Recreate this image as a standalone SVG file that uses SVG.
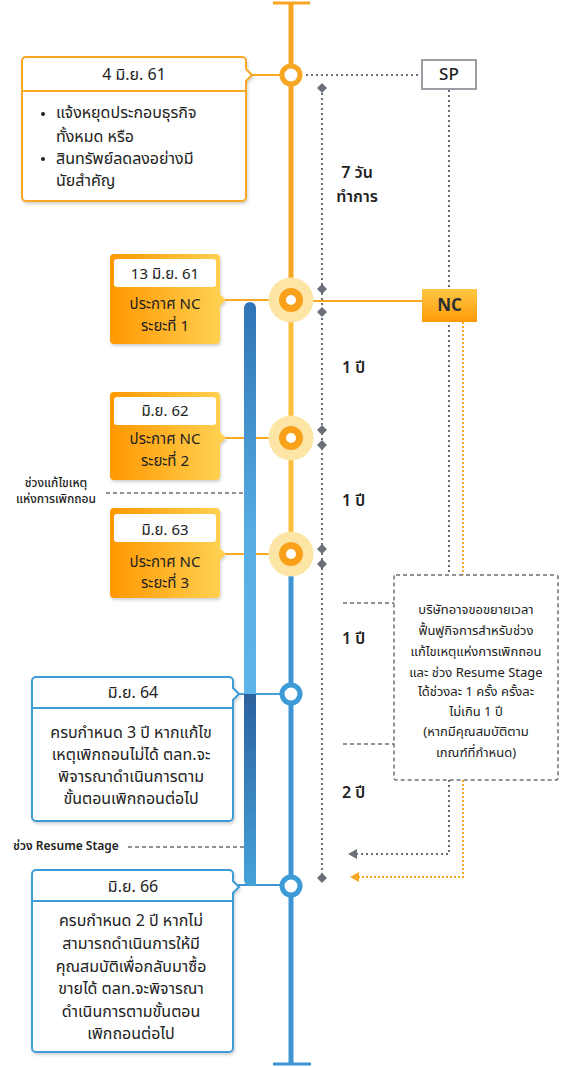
<svg xmlns="http://www.w3.org/2000/svg" width="564" height="1067" viewBox="0 0 564 1067">
<style>
text{font-family:"Noto Sans Thai","Noto Sans","DejaVu Sans","Liberation Sans",sans-serif;fill:#222;dominant-baseline:central}
.c{text-anchor:middle}
.t16{font-size:16px}
.t15{font-size:15px}
.t13{font-size:13px}
.t12{font-size:12px}
.b{font-weight:bold}
.sb{font-weight:600}
.dot{fill:none;stroke:#6B7078;stroke-width:2;stroke-dasharray:2 3}
.dash{fill:none;stroke:#6B7078;stroke-width:1.5;stroke-dasharray:4 3}
.odot{fill:none;stroke:#F9A825;stroke-width:2;stroke-dasharray:2 2}
.dia{fill:#6B7078}
</style>
<defs>
<linearGradient id="gNC" x1="0" y1="0" x2="1" y2="0"><stop offset="0" stop-color="#FF9800"/><stop offset="1" stop-color="#FFD355"/></linearGradient>
<linearGradient id="gNCr" x1="0" y1="0" x2="0" y2="1"><stop offset="0" stop-color="#FFC845"/><stop offset="1" stop-color="#FF9A0A"/></linearGradient>
<linearGradient id="gBar1" x1="0" y1="0" x2="0" y2="1"><stop offset="0" stop-color="#3074B5"/><stop offset="0.6" stop-color="#56AEE3"/><stop offset="1" stop-color="#5DB5E8"/></linearGradient>
<linearGradient id="gBar2" x1="0" y1="0" x2="0" y2="1"><stop offset="0" stop-color="#2C629E"/><stop offset="1" stop-color="#45A3DA"/></linearGradient>
<filter id="sh" x="-10%" y="-10%" width="125%" height="125%"><feDropShadow dx="1" dy="2" stdDeviation="1.5" flood-color="#000" flood-opacity="0.18"/></filter>
</defs>

<g id="connectors">
<line x1="291" y1="3" x2="291" y2="290" stroke="#F7A623" stroke-width="5"/>
<line x1="273" y1="3" x2="310" y2="3" stroke="#F7A623" stroke-width="3"/>
<line x1="291" y1="300" x2="291" y2="560" stroke="#FBBD3C" stroke-width="5"/>
<line x1="291" y1="575" x2="291" y2="1065" stroke="#3F95D4" stroke-width="5"/>
<line x1="273" y1="1064" x2="311" y2="1064" stroke="#3F95D4" stroke-width="3"/>
<line x1="251" y1="75" x2="282" y2="75" stroke="#F9A825" stroke-width="2"/>
<line x1="225" y1="300" x2="272" y2="300" stroke="#F9A825" stroke-width="2"/>
<line x1="225" y1="438" x2="272" y2="438" stroke="#F9A825" stroke-width="2"/>
<line x1="225" y1="554" x2="272" y2="554" stroke="#F9A825" stroke-width="2"/>
<line x1="310" y1="301" x2="422" y2="301" stroke="#F9A825" stroke-width="2"/>
<line x1="238" y1="694" x2="282" y2="694" stroke="#4A9FD8" stroke-width="2"/>
<line x1="238" y1="885" x2="282" y2="885" stroke="#3F95D4" stroke-width="2"/>
<line class="dot" x1="306" y1="75" x2="422" y2="75"/>
<line class="dot" x1="322" y1="88" x2="322" y2="878"/>
<path class="dot" d="M449,90 V575"/>
<path class="dot" d="M449,780 V854 H356"/>
<path d="M348,854 L357,849 L357,859 Z" fill="#6B7078"/>
<path class="odot" d="M463,322 V575"/>
<path class="odot" d="M463,780 V877 H358"/>
<path d="M350,877 L359,872 L359,882 Z" fill="#F9A825"/>
<g class="dia">
<path d="M322,83 l5,5 -5,5 -5,-5z"/>
<path d="M322,284 l5,5 -5,5 -5,-5z"/>
<path d="M322,307 l5,5 -5,5 -5,-5z"/>
<path d="M322,425 l5,5 -5,5 -5,-5z"/>
<path d="M322,440 l5,5 -5,5 -5,-5z"/>
<path d="M322,544 l5,5 -5,5 -5,-5z"/>
<path d="M322,559 l5,5 -5,5 -5,-5z"/>
<path d="M322,873 l5,5 -5,5 -5,-5z"/>
</g>
<line class="dash" x1="343" y1="603" x2="394" y2="603"/>
<line class="dash" x1="343" y1="744" x2="394" y2="744"/>
<line class="dash" x1="106" y1="493" x2="244" y2="493"/>
<line class="dash" x1="128" y1="847" x2="244" y2="847"/>
</g>

<g id="period-bar">
<path d="M244,308 a6,6 0 0 1 12,0 V694 H244 Z" fill="url(#gBar1)"/>
<path d="M244,694 H256 V886 H250 a6,6 0 0 1 -6,-6 Z" fill="url(#gBar2)"/>
</g>

<g id="circles">
<circle cx="291" cy="75" r="9" fill="#fff" stroke="#F7A623" stroke-width="5"/>
<circle cx="291" cy="300" r="22.5" fill="#FDE5A6"/>
<circle cx="291" cy="300" r="8.5" fill="#fff" stroke="#F9A11B" stroke-width="7"/>
<circle cx="291" cy="438" r="22.5" fill="#FDE5A6"/>
<circle cx="291" cy="438" r="8.5" fill="#fff" stroke="#F9A11B" stroke-width="7"/>
<circle cx="291" cy="554" r="22.5" fill="#FDE5A6"/>
<circle cx="291" cy="554" r="8.5" fill="#fff" stroke="#F9A11B" stroke-width="7"/>
<circle cx="291" cy="694" r="9" fill="#fff" stroke="#3D9BD7" stroke-width="5"/>
<circle cx="291" cy="886" r="9" fill="#fff" stroke="#3D9BD7" stroke-width="5"/>
</g>

<g id="node-jun61">
<path d="M26,57 H242 a4,4 0 0 1 4,4 V69 L252,75 L246,81 V197 a4,4 0 0 1 -4,4 H26 a4,4 0 0 1 -4,-4 V61 a4,4 0 0 1 4,-4 Z" fill="#fff" stroke="#F9A825" stroke-width="2" filter="url(#sh)"/>
<line x1="22" y1="91" x2="246" y2="91" stroke="#F9A825" stroke-width="2"/>
<text class="c t16" x="134" y="75">4 มิ.ย. 61</text>
<circle cx="43" cy="114" r="2" fill="#222"/>
<circle cx="43" cy="159" r="2" fill="#222"/>
<text class="t16" x="56" y="113">แจ้งหยุดประกอบธุรกิจ</text>
<text class="t16" x="56" y="137">ทั้งหมด หรือ</text>
<text class="t16" x="56" y="159">สินทรัพย์ลดลงอย่างมี</text>
<text class="t16" x="56" y="181">นัยสำคัญ</text>
</g>

<g id="node-sp">
<rect x="422" y="60" width="54" height="29" fill="#fff" stroke="#9AA0A6" stroke-width="2"/>
<text class="c" x="449" y="75" style="font-size:17px;font-weight:500">SP</text>
</g>

<g id="label-7days">
<text class="c t16 sb" x="357" y="173">7 วัน</text>
<text class="c t16 sb" x="357" y="197">ทำการ</text>
</g>

<g id="node-nc1" transform="translate(110,254)">
<path d="M4,0 H106 a4,4 0 0 1 4,4 V40 L116,46 L110,52 V86 a4,4 0 0 1 -4,4 H4 a4,4 0 0 1 -4,-4 V4 a4,4 0 0 1 4,-4 Z" fill="url(#gNC)" filter="url(#sh)"/>
<rect x="4" y="5" width="102" height="28" rx="3" fill="#fff"/>
<text class="c t15" x="55" y="20">13 มิ.ย. 61</text>
<text class="c t15" x="55" y="50">ประกาศ NC</text>
<text class="c t15" x="55" y="72">ระยะที่ 1</text>
</g>

<g id="node-nc">
<rect x="422" y="289" width="55" height="33" fill="url(#gNCr)"/>
<text class="c b" x="449.5" y="306" style="font-size:17px;fill:#2B2F36">NC</text>
</g>

<g id="node-nc2" transform="translate(110,392)">
<path d="M4,0 H106 a4,4 0 0 1 4,4 V40 L116,46 L110,52 V84 a4,4 0 0 1 -4,4 H4 a4,4 0 0 1 -4,-4 V4 a4,4 0 0 1 4,-4 Z" fill="url(#gNC)" filter="url(#sh)"/>
<rect x="4" y="5" width="102" height="28" rx="3" fill="#fff"/>
<text class="c t15" x="55" y="19">มิ.ย. 62</text>
<text class="c t15" x="55" y="47">ประกาศ NC</text>
<text class="c t15" x="55" y="69">ระยะที่ 2</text>
</g>

<g id="node-nc3" transform="translate(110,508)">
<path d="M4,0 H106 a4,4 0 0 1 4,4 V40 L116,46 L110,52 V86 a4,4 0 0 1 -4,4 H4 a4,4 0 0 1 -4,-4 V4 a4,4 0 0 1 4,-4 Z" fill="url(#gNC)" filter="url(#sh)"/>
<rect x="4" y="6" width="102" height="28" rx="3" fill="#fff"/>
<text class="c t15" x="55" y="22">มิ.ย. 63</text>
<text class="c t15" x="55" y="54">ประกาศ NC</text>
<text class="c t15" x="55" y="75">ระยะที่ 3</text>
</g>

<g id="labels-years">
<text class="t16 sb" x="342" y="368">1 ปี</text>
<text class="t16 sb" x="342" y="501">1 ปี</text>
<text class="t16 sb" x="342" y="639">1 ปี</text>
<text class="t16 sb" x="342" y="793">2 ปี</text>
</g>

<g id="label-remedy">
<text class="c t12" x="56" y="483" style="font-weight:500">ช่วงแก้ไขเหตุ</text>
<text class="c t12" x="56" y="499" style="font-weight:500">แห่งการเพิกถอน</text>
</g>

<g id="label-resume">
<text class="t12 sb" x="13" y="846">ช่วง Resume Stage</text>
</g>

<g id="node-note">
<rect class="dash" x="394" y="575" width="164" height="205" rx="2"/>
<text class="c t13" x="476" y="610">บริษัทอาจขอขยายเวลา</text>
<text class="c t13" x="476" y="631">ฟื้นฟูกิจการสำหรับช่วง</text>
<text class="c t13" x="476" y="652">แก้ไขเหตุแห่งการเพิกถอน</text>
<text class="c t13" x="476" y="673">และ ช่วง Resume Stage</text>
<text class="c t13" x="476" y="692">ได้ช่วงละ 1 ครั้ง ครั้งละ</text>
<text class="c t13" x="476" y="712">ไม่เกิน 1 ปี</text>
<text class="c t13" x="476" y="732">(หากมีคุณสมบัติตาม</text>
<text class="c t13" x="476" y="753">เกณฑ์ที่กำหนด)</text>
</g>

<g id="node-jun64">
<path d="M36,677 H229 a4,4 0 0 1 4,4 V688 L239,694 L233,700 V817 a4,4 0 0 1 -4,4 H36 a4,4 0 0 1 -4,-4 V681 a4,4 0 0 1 4,-4 Z" fill="#fff" stroke="#3D9BD7" stroke-width="2" filter="url(#sh)"/>
<line x1="32" y1="708" x2="233" y2="708" stroke="#3D9BD7" stroke-width="2"/>
<text class="c t16" x="133" y="693">มิ.ย. 64</text>
<text class="c t16" x="131" y="733">ครบกำหนด 3 ปี หากแก้ไข</text>
<text class="c t16" x="131" y="755">เหตุเพิกถอนไม่ได้ ตลท.จะ</text>
<text class="c t16" x="131" y="777">พิจารณาดำเนินการตาม</text>
<text class="c t16" x="131" y="799">ขั้นตอนเพิกถอนต่อไป</text>
</g>

<g id="node-jun66">
<path d="M36,870 H229 a4,4 0 0 1 4,4 V881 L239,887 L233,893 V1048 a4,4 0 0 1 -4,4 H36 a4,4 0 0 1 -4,-4 V874 a4,4 0 0 1 4,-4 Z" fill="#fff" stroke="#3D9BD7" stroke-width="2" filter="url(#sh)"/>
<line x1="32" y1="901" x2="233" y2="901" stroke="#3D9BD7" stroke-width="2"/>
<text class="c t16" x="133" y="887">มิ.ย. 66</text>
<text class="c t16" x="131" y="921">ครบกำหนด 2 ปี หากไม่</text>
<text class="c t16" x="131" y="944">สามารถดำเนินการให้มี</text>
<text class="c t16" x="131" y="967">คุณสมบัติเพื่อกลับมาซื้อ</text>
<text class="c t16" x="131" y="989">ขายได้ ตลท.จะพิจารณา</text>
<text class="c t16" x="131" y="1012">ดำเนินการตามขั้นตอน</text>
<text class="c t16" x="131" y="1034">เพิกถอนต่อไป</text>
</g>
</svg>
